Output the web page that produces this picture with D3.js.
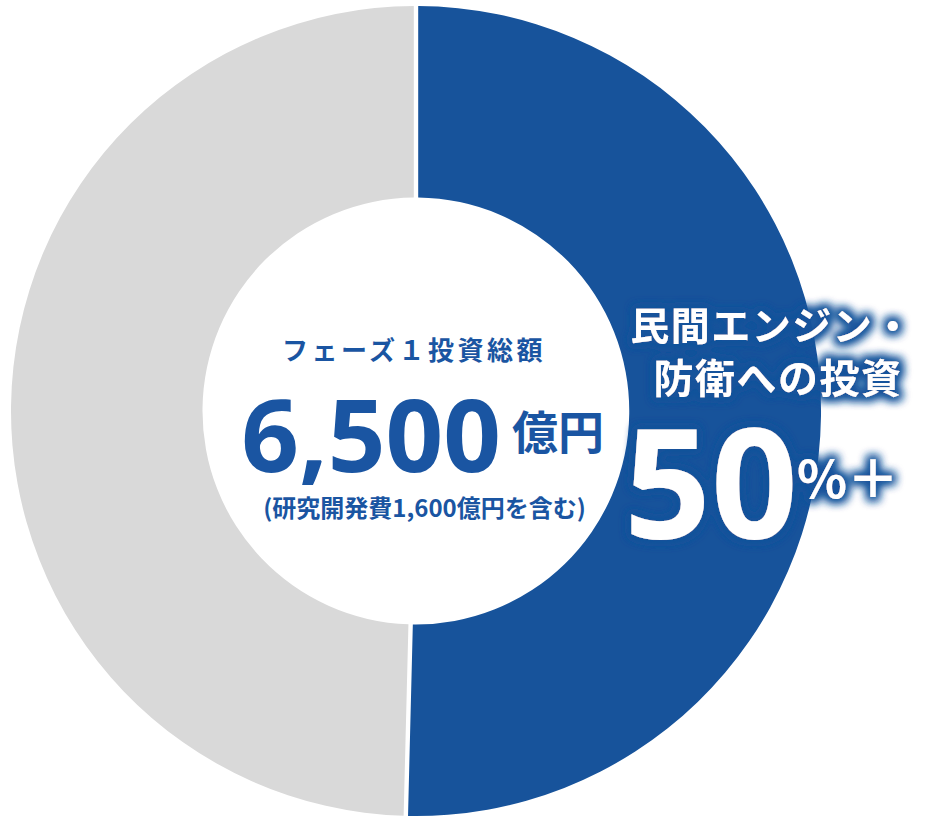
<!DOCTYPE html>
<html><head><meta charset="utf-8">
<script src="https://cdn.jsdelivr.net/npm/d3@7/dist/d3.min.js"></script>
<style>
html,body{margin:0;padding:0;background:#fff;}
svg text{font-family:"Noto Sans CJK JP","Noto Sans",sans-serif;font-weight:700;}
</style></head>
<body><svg id="chart" width="926" height="817"></svg>
<script>
const categories = ["民間エンジン・防衛への投資", "その他"];
const shares = [50.4, 49.6];
const colors = ["#17539B", "#D9D9D9"];
const centerTitle = "フェーズ１投資総額";
const totalValue = "6,500";
const totalUnit = "億円";
const totalNote = "(研究開発費1,600億円を含む)";
const sliceLabelLines = ["民間エンジン・", "防衛への投資"];
const sliceValue = "50";
const sliceSuffix = "%＋";

const svg = d3.select("#chart");
const cx = 416, cy = 411, R = 405, r = 213.5;

const defs = svg.append("defs");
const f = defs.append("filter").attr("id","glow").attr("x","-30%").attr("y","-30%").attr("width","160%").attr("height","160%");
f.append("feMorphology").attr("in","SourceAlpha").attr("operator","dilate").attr("radius",3).attr("result","d");
f.append("feGaussianBlur").attr("in","d").attr("stdDeviation",5).attr("result","b");
f.append("feFlood").attr("flood-color","#17539B").attr("result","c");
f.append("feComposite").attr("in","c").attr("in2","b").attr("operator","in").attr("result","s");
const m = f.append("feMerge");
m.append("feMergeNode").attr("in","s");
m.append("feMergeNode").attr("in","s");
m.append("feMergeNode").attr("in","SourceGraphic");

const pie = d3.pie().sort(null).value(d => d).startAngle(0).endAngle(2*Math.PI);
const arc = d3.arc().innerRadius(r).outerRadius(R).padAngle(4.4/R).padRadius(R);

const g = svg.append("g").attr("transform",`translate(${cx},${cy})`);
g.selectAll("path").data(pie(shares)).join("path")
  .attr("d", arc).attr("fill", (d,i) => colors[i]);

const blue = "#1A55A2";
svg.append("text").attr("x",414).attr("y",360).attr("text-anchor","middle")
  .attr("font-size",26).attr("letter-spacing",3.5).attr("fill",blue).text(centerTitle);
svg.append("text").attr("x",501).attr("y",472).attr("text-anchor","end")
  .attr("font-size",101).attr("fill",blue).style("font-family","'Noto Sans',sans-serif").text(totalValue);
svg.append("text").attr("x",512).attr("y",449).attr("text-anchor","start")
  .attr("font-size",46).attr("fill",blue).text(totalUnit);
svg.append("text").attr("x",424.5).attr("y",517).attr("text-anchor","middle")
  .attr("font-size",24).attr("fill",blue).text(totalNote);

const lab = svg.append("g").attr("filter","url(#glow)");
lab.append("text").attr("x",772).attr("y",340).attr("text-anchor","middle")
  .attr("font-size",39).attr("letter-spacing",1.5).attr("fill","#fff").text(sliceLabelLines[0]);
lab.append("text").attr("x",778).attr("y",393).attr("text-anchor","middle")
  .attr("font-size",40).attr("letter-spacing",1.5).attr("fill","#fff").text(sliceLabelLines[1]);
lab.append("text").attr("x",624).attr("y",538).attr("text-anchor","start")
  .attr("font-size",152).attr("fill","#fff").style("font-family","'Noto Sans',sans-serif").text(sliceValue);
lab.append("text").attr("x",797).attr("y",498).attr("text-anchor","start")
  .attr("font-size",52).attr("fill","#fff").text(sliceSuffix);
</script></body></html>
